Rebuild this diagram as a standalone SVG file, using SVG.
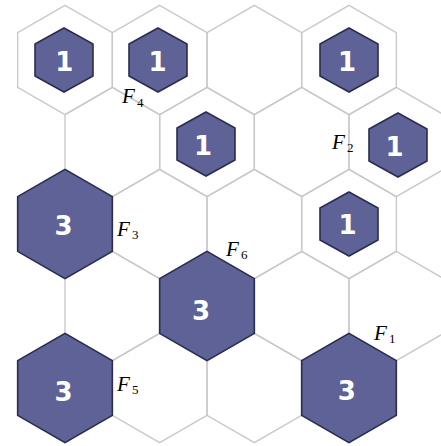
<svg xmlns="http://www.w3.org/2000/svg" xmlns:xlink="http://www.w3.org/1999/xlink" width="441" height="446" viewBox="0 0 441 446">
<style>
.grid{fill:none;stroke:#c9c9c9;stroke-width:1.4}
.big,.small{fill:#5e6297;stroke:#2b2c50;stroke-width:1.6}
.num{font-family:"DejaVu Sans",sans-serif;font-weight:bold;font-size:26px;fill:#ffffff;text-anchor:middle}
.lab{font-family:"Liberation Serif",serif;font-style:italic;font-size:21px;fill:#000}
.sub{font-family:"Liberation Serif",serif;font-size:13px;fill:#000}
</style>
<defs>
<polygon id="cell" points="0,-54.65 47.33,-27.33 47.33,27.33 0,54.65 -47.33,27.33 -47.33,-27.33"/>
<polygon id="sm" points="0,-32 29,-16 29,16 0,32 -29,16 -29,-16"/>
</defs>
<rect width="441" height="446" fill="#ffffff"/>
<g id="grid" class="grid">
<use xlink:href="#cell" x="65" y="60"/>
<use xlink:href="#cell" x="159.67" y="60"/>
<use xlink:href="#cell" x="254.33" y="60"/>
<use xlink:href="#cell" x="349" y="60"/>
<use xlink:href="#cell" x="112.33" y="142"/>
<use xlink:href="#cell" x="207" y="142"/>
<use xlink:href="#cell" x="301.67" y="142"/>
<use xlink:href="#cell" x="396.33" y="142"/>
<use xlink:href="#cell" x="65" y="224"/>
<use xlink:href="#cell" x="159.67" y="224"/>
<use xlink:href="#cell" x="254.33" y="224"/>
<use xlink:href="#cell" x="349" y="224"/>
<use xlink:href="#cell" x="112.33" y="306"/>
<use xlink:href="#cell" x="207" y="306"/>
<use xlink:href="#cell" x="301.67" y="306"/>
<use xlink:href="#cell" x="396.33" y="306"/>
<use xlink:href="#cell" x="65" y="388"/>
<use xlink:href="#cell" x="159.67" y="388"/>
<use xlink:href="#cell" x="254.33" y="388"/>
<use xlink:href="#cell" x="349" y="388"/>
</g>
<g id="big1"><use xlink:href="#cell" class="big" x="65" y="224"/><text class="num" x="63.5" y="234.5">3</text></g>
<g id="big2"><use xlink:href="#cell" class="big" x="207" y="306"/><text class="num" x="201" y="319.5">3</text></g>
<g id="big3"><use xlink:href="#cell" class="big" x="65" y="388"/><text class="num" x="63.5" y="400.5">3</text></g>
<g id="big4"><use xlink:href="#cell" class="big" x="349" y="388"/><text class="num" x="346.7" y="399.5">3</text></g>
<g id="small1"><use xlink:href="#sm" class="small" x="64" y="60"/><text class="num" x="64.2" y="70.5">1</text></g>
<g id="small2"><use xlink:href="#sm" class="small" x="158" y="60"/><text class="num" x="157.5" y="70.5">1</text></g>
<g id="small3"><use xlink:href="#sm" class="small" x="349" y="60"/><text class="num" x="347" y="70.5">1</text></g>
<g id="small4"><use xlink:href="#sm" class="small" x="206" y="144"/><text class="num" x="203" y="154.5">1</text></g>
<g id="small5"><use xlink:href="#sm" class="small" x="398" y="145"/><text class="num" x="394.5" y="155.5">1</text></g>
<g id="small6"><use xlink:href="#sm" class="small" x="349" y="224"/><text class="num" x="347.5" y="233.5">1</text></g>
<g id="labels">
<g id="F1"><text class="lab" x="374" y="340">F</text><text class="sub" x="389" y="343">1</text></g>
<g id="F2"><text class="lab" x="332" y="149">F</text><text class="sub" x="347" y="152">2</text></g>
<g id="F3"><text class="lab" x="117" y="236">F</text><text class="sub" x="132" y="239">3</text></g>
<g id="F4"><text class="lab" x="122" y="103">F</text><text class="sub" x="137" y="106.5">4</text></g>
<g id="F5"><text class="lab" x="117" y="391">F</text><text class="sub" x="132" y="394">5</text></g>
<g id="F6"><text class="lab" x="226" y="256">F</text><text class="sub" x="241" y="259">6</text></g>
</g>
</svg>
